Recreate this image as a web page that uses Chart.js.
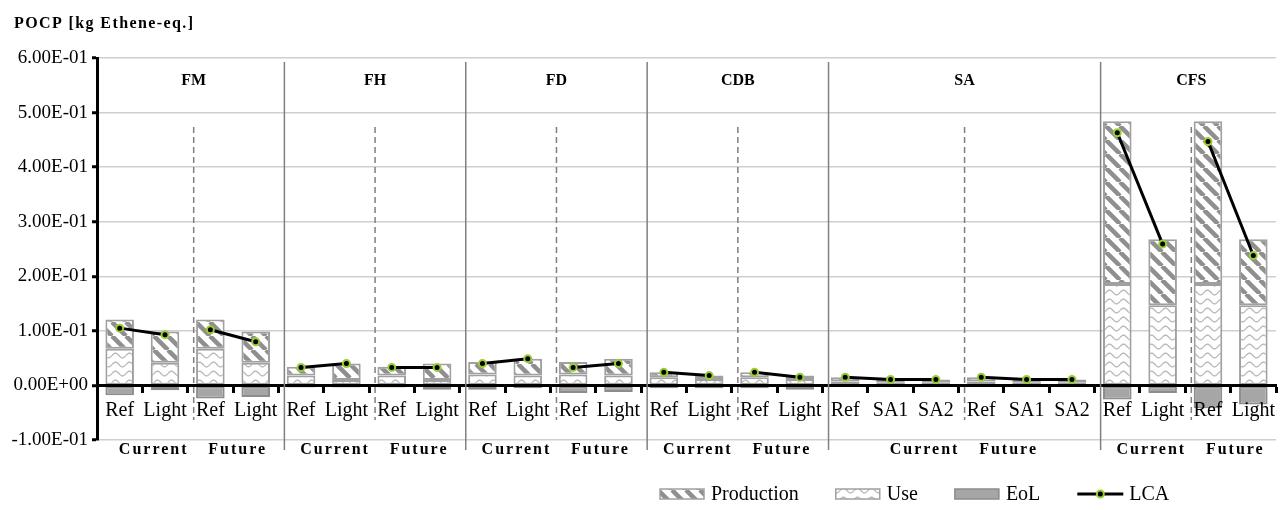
<!DOCTYPE html>
<html>
<head>
<meta charset="utf-8">
<script src="https://cdn.jsdelivr.net/npm/chart.js@4/dist/chart.umd.min.js"></script>
<style>
  html, body { margin: 0; padding: 0; background: #ffffff; }
  #wrap { width: 1288px; height: 510px; }
</style>
</head>
<body>
<div id="wrap"><canvas id="c" width="1288" height="510"></canvas></div>
<script>
// ---------------- DATA ----------------
const yAxisTitle = 'POCP [kg Ethene-eq.]';
const groups = ['FM', 'FH', 'FD', 'CDB', 'SA', 'CFS'];
const periods = ['Current', 'Future'];
const categories = [
  'Ref', 'Light', 'Ref', 'Light',
  'Ref', 'Light', 'Ref', 'Light',
  'Ref', 'Light', 'Ref', 'Light',
  'Ref', 'Light', 'Ref', 'Light',
  'Ref', 'SA1', 'SA2', 'Ref', 'SA1', 'SA2',
  'Ref', 'Light', 'Ref', 'Light'
];
const categoryGroup = [
  'FM', 'FM', 'FM', 'FM',
  'FH', 'FH', 'FH', 'FH',
  'FD', 'FD', 'FD', 'FD',
  'CDB', 'CDB', 'CDB', 'CDB',
  'SA', 'SA', 'SA', 'SA', 'SA', 'SA',
  'CFS', 'CFS', 'CFS', 'CFS'
];
const categoryPeriod = [
  'Current', 'Current', 'Future', 'Future',
  'Current', 'Current', 'Future', 'Future',
  'Current', 'Current', 'Future', 'Future',
  'Current', 'Current', 'Future', 'Future',
  'Current', 'Current', 'Current', 'Future', 'Future', 'Future',
  'Current', 'Current', 'Future', 'Future'
];
const useValues = [
  0.067, 0.0415, 0.067, 0.0415,
  0.018, 0.010, 0.018, 0.010,
  0.020, 0.018, 0.020, 0.018,
  0.015, 0.012, 0.015, 0.012,
  0.007, 0.006, 0.006, 0.007, 0.006, 0.006,
  0.186, 0.147, 0.186, 0.147
];
const productionValues = [
  0.054, 0.0575, 0.054, 0.0575,
  0.016, 0.030, 0.016, 0.030,
  0.023, 0.031, 0.023, 0.031,
  0.009, 0.006, 0.009, 0.006,
  0.008, 0.005, 0.005, 0.008, 0.005, 0.005,
  0.298, 0.121, 0.298, 0.121
];
const eolValues = [
  -0.018, -0.009, -0.024, -0.021,
  -0.004, -0.004, -0.004, -0.008,
  -0.008, -0.005, -0.014, -0.012,
  -0.005, -0.005, -0.005, -0.008,
  -0.002, -0.002, -0.002, -0.002, -0.002, -0.002,
  -0.026, -0.014, -0.042, -0.035
];
const lcaValues = [
  0.105, 0.093, 0.102, 0.080,
  0.033, 0.040, 0.033, 0.033,
  0.040, 0.049, 0.033, 0.040,
  0.024, 0.018, 0.024, 0.015,
  0.015, 0.011, 0.011, 0.015, 0.011, 0.011,
  0.463, 0.259, 0.447, 0.238
];
const yTicks = [-0.1, 0, 0.1, 0.2, 0.3, 0.4, 0.5, 0.6];
const legendLabels = ['Production', 'Use', 'EoL', 'LCA'];

// ---------------- STYLE HELPERS ----------------
const SERIF = "'Liberation Serif', 'Times New Roman', 'DejaVu Serif', serif";
const canvas = document.getElementById('c');
const mainCtx = canvas.getContext('2d');

function makeTile(w, h, draw) {
  const t = document.createElement('canvas');
  t.width = w; t.height = h;
  const g = t.getContext('2d');
  g.fillStyle = '#ffffff';
  g.fillRect(0, 0, w, h);
  draw(g, w, h);
  return t;
}
const stripeTile = makeTile(14, 14, (g, s) => {
  g.strokeStyle = '#8f8f8f';
  g.lineWidth = 4.5;
  g.beginPath();
  for (const o of [-s, 0, s]) { g.moveTo(o, 0); g.lineTo(o + s, s); }
  g.stroke();
});
const waveTile = makeTile(14, 9, (g, w, h) => {
  g.strokeStyle = '#b8b8b8';
  g.lineWidth = 1.3;
  g.beginPath();
  for (let x = 0; x <= w; x += 0.5) {
    const yy = 4.5 - 2.3 * Math.sin(2 * Math.PI * x / w);
    if (x === 0) g.moveTo(x, yy); else g.lineTo(x, yy);
  }
  g.stroke();
});
const stripePattern = mainCtx.createPattern(stripeTile, 'repeat');
const wavePattern = mainCtx.createPattern(waveTile, 'repeat');

function fmtExp(v) {
  if (Math.abs(v) < 1e-12) return '0.00E+00';
  const parts = v.toExponential(2).split('e');
  const n = parseInt(parts[1], 10);
  return parts[0] + 'E' + (n < 0 ? '-' : '+') + String(Math.abs(n)).padStart(2, '0');
}

// ---------------- DECORATION PLUGIN ----------------
const LINE_SHIFT = 6;
const decorations = {
  id: 'decorations',
  afterDraw(chart) {
    const { ctx, scales: { x } } = chart;
    const boundary = (i) => (x.getPixelForValue(i) + x.getPixelForValue(i + 1)) / 2 + LINE_SHIFT;
    ctx.save();

    // axis title
    ctx.fillStyle = '#000';
    ctx.font = 'bold 16px ' + SERIF;
    ctx.textAlign = 'left';
    ctx.textBaseline = 'alphabetic';
    ctx.letterSpacing = '1.4px';
    ctx.fillText(yAxisTitle, 14, 28);

    groups.forEach((g, gi) => {
      const idx = categoryGroup.map((c, i) => c === g ? i : -1).filter(i => i >= 0);
      const last = idx[idx.length - 1];
      const firstFuture = idx.find(i => categoryPeriod[i] === 'Future');
      const midX = boundary(firstFuture - 1);

      // dashed period divider
      ctx.strokeStyle = '#7f7f7f';
      ctx.lineWidth = 1.5;
      ctx.setLineDash([6, 4]);
      ctx.beginPath();
      ctx.moveTo(midX, 127);
      ctx.lineTo(midX, 420);
      ctx.stroke();
      ctx.setLineDash([]);

      // solid group separator
      if (gi < groups.length - 1) {
        const sx = boundary(last);
        ctx.strokeStyle = '#808080';
        ctx.lineWidth = 1.5;
        ctx.beginPath();
        ctx.moveTo(sx, 62);
        ctx.lineTo(sx, 450);
        ctx.stroke();
      }

      // group title
      ctx.fillStyle = '#000';
      ctx.letterSpacing = '0px';
      ctx.font = 'bold 16px ' + SERIF;
      ctx.textAlign = 'center';
      ctx.textBaseline = 'middle';
      ctx.fillText(g, midX, 81);

      // period labels
      ctx.letterSpacing = '2px';
      ctx.fillText(periods[0], midX - 40, 450);
      ctx.fillText(periods[1], midX + 44, 450);
      ctx.letterSpacing = '0px';
    });

    // legend
    const ly = 494;
    let lx = 660;
    ctx.font = '20px ' + SERIF;
    ctx.textAlign = 'left';
    ctx.textBaseline = 'middle';
    legendLabels.forEach((lab) => {
      if (lab === 'LCA') {
        ctx.strokeStyle = '#000';
        ctx.lineWidth = 3;
        ctx.beginPath();
        ctx.moveTo(lx, ly); ctx.lineTo(lx + 46, ly);
        ctx.stroke();
        ctx.beginPath();
        ctx.arc(lx + 23, ly, 3.5, 0, Math.PI * 2);
        ctx.fillStyle = '#000';
        ctx.fill();
        ctx.strokeStyle = '#9acd32';
        ctx.lineWidth = 2;
        ctx.stroke();
      } else {
        ctx.fillStyle = lab === 'Production' ? stripePattern : (lab === 'Use' ? wavePattern : '#a6a6a6');
        ctx.fillRect(lx, ly - 5, 44, 10);
        ctx.strokeStyle = lab === 'EoL' ? '#8c8c8c' : '#a0a0a0';
        ctx.lineWidth = 1.5;
        ctx.strokeRect(lx, ly - 5, 44, 10);
      }
      ctx.fillStyle = '#000';
      const tx = lx + (lab === 'LCA' ? 52 : 51);
      ctx.fillText(lab, tx, ly + 1);
      lx = tx + ctx.measureText(lab).width + 37;
    });
    ctx.restore();
  }
};

// ---------------- CHART ----------------
new Chart(mainCtx, {
  type: 'bar',
  data: {
    labels: categories,
    datasets: [
      {
        type: 'line',
        label: 'LCA',
        data: lcaValues,
        order: 0,
        borderColor: '#000000',
        borderWidth: 3,
        pointRadius: 3.5,
        pointBackgroundColor: '#000000',
        pointBorderColor: '#9acd32',
        pointBorderWidth: 2,
        fill: false,
        tension: 0,
        segment: {
          borderColor: (c) => (categoryGroup[c.p0DataIndex] === categoryGroup[c.p1DataIndex] &&
            categoryPeriod[c.p0DataIndex] === categoryPeriod[c.p1DataIndex]) ? '#000000' : 'rgba(0,0,0,0)'
        }
      },
      {
        label: 'Use',
        data: useValues,
        order: 1,
        stack: 's',
        backgroundColor: wavePattern,
        borderColor: '#a0a0a0',
        borderWidth: 2,
        borderSkipped: false
      },
      {
        label: 'Production',
        data: productionValues,
        order: 1,
        stack: 's',
        backgroundColor: stripePattern,
        borderColor: '#a0a0a0',
        borderWidth: 2,
        borderSkipped: false
      },
      {
        label: 'EoL',
        data: eolValues,
        order: 1,
        stack: 's',
        backgroundColor: '#a6a6a6',
        borderColor: '#8c8c8c',
        borderWidth: 2,
        borderSkipped: false
      }
    ]
  },
  options: {
    responsive: false,
    animation: false,
    events: [],
    layout: { padding: { left: 10, right: 12, top: 58, bottom: 70 } },
    datasets: { bar: { barPercentage: 0.63, categoryPercentage: 1.0 } },
    plugins: {
      legend: { display: false },
      tooltip: { enabled: false },
      title: { display: false }
    },
    scales: {
      x: {
        stacked: true,
        position: { y: 0 },
        offset: true,
        grid: {
          offset: true,
          drawOnChartArea: false,
          drawTicks: true,
          tickLength: 6,
          tickColor: '#000000',
          tickWidth: 3,
          z: 1
        },
        border: { display: true, color: '#000000', width: 3, z: 1 },
        ticks: {
          autoSkip: false,
          maxRotation: 0,
          minRotation: 0,
          padding: 7,
          z: 1,
          color: '#000000',
          font: { family: SERIF, size: 20 }
        }
      },
      y: {
        stacked: true,
        min: -0.1,
        max: 0.6,
        afterBuildTicks: (s) => { s.ticks = yTicks.map(v => ({ value: v })); },
        afterFit: (s) => { s.width = 87; },
        grid: {
          color: (c) => (c.tick && Math.abs(c.tick.value) < 1e-9) ? 'rgba(0,0,0,0)' : '#cfcfcf',
          lineWidth: 1.5,
          drawTicks: true,
          tickLength: 5,
          tickColor: '#000000',
          tickWidth: 3
        },
        border: { display: true, color: '#000000', width: 3 },
        ticks: {
          padding: 4,
          color: '#000000',
          font: { family: SERIF, size: 19 },
          callback: (v) => fmtExp(v)
        }
      }
    }
  },
  plugins: [decorations]
});
</script>
</body>
</html>
